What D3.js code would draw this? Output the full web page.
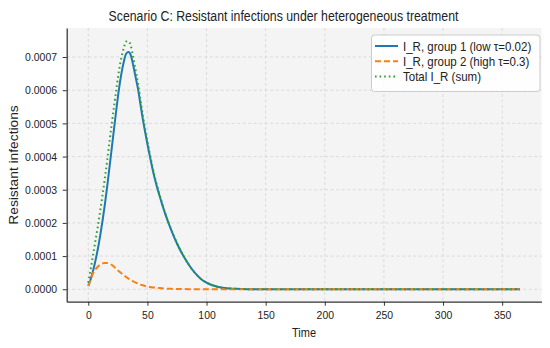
<!DOCTYPE html>
<html>
<head>
<meta charset="utf-8">
<script src="https://cdn.jsdelivr.net/npm/d3@7"></script>
<style>
  body { margin: 0; background: #fff; }
  svg text { font-family: "Liberation Sans", Arial, sans-serif; fill: #222; }
</style>
</head>
<body>
<svg id="chart" width="550" height="348"></svg>
<script>
// Scenario C: resistant infections
const time = [0, 2, 4, 6, 8, 10, 12, 14, 16, 18, 20, 22, 24, 26, 28, 30, 32, 34, 36, 38, 40,
  42, 44, 46, 48, 50, 52, 54, 56, 58, 60, 65, 70, 75, 80, 85, 90, 95, 100, 105, 110, 115,
  120, 125, 130, 135, 140, 145, 150, 200, 250, 300, 365];

const group1 = [0.10e-4, 0.30e-4, 0.55e-4, 0.85e-4, 1.20e-4, 1.60e-4, 2.05e-4, 2.55e-4, 3.10e-4,
  3.70e-4, 4.30e-4, 4.90e-4, 5.50e-4, 6.05e-4, 6.50e-4, 6.85e-4, 7.10e-4, 7.15e-4, 7.05e-4,
  6.75e-4, 6.40e-4, 6.05e-4, 5.60e-4, 5.15e-4, 4.75e-4, 4.38e-4, 4.02e-4, 3.68e-4, 3.37e-4,
  3.10e-4, 2.85e-4, 2.28e-4, 1.80e-4, 1.38e-4, 1.03e-4, 0.74e-4, 0.50e-4, 0.32e-4, 0.20e-4,
  0.12e-4, 0.07e-4, 0.04e-4, 0.022e-4, 0.012e-4, 0.006e-4, 0.003e-4, 0.002e-4, 0.001e-4,
  0, 0, 0, 0, 0];

const group2 = [0.10e-4, 0.30e-4, 0.48e-4, 0.60e-4, 0.68e-4, 0.74e-4, 0.78e-4, 0.79e-4, 0.79e-4,
  0.77e-4, 0.73e-4, 0.67e-4, 0.60e-4, 0.54e-4, 0.48e-4, 0.42e-4, 0.37e-4, 0.32e-4, 0.28e-4,
  0.24e-4, 0.20e-4, 0.17e-4, 0.14e-4, 0.12e-4, 0.10e-4, 0.085e-4, 0.07e-4, 0.06e-4, 0.05e-4,
  0.042e-4, 0.035e-4, 0.02e-4, 0.012e-4, 0.008e-4, 0.005e-4, 0.003e-4, 0.002e-4, 0.001e-4,
  0.001e-4, 0, 0, 0, 0, 0, 0, 0, 0, 0, 0, 0, 0, 0, 0];

const total = [0.20e-4, 0.60e-4, 1.03e-4, 1.45e-4, 1.88e-4, 2.34e-4, 2.83e-4, 3.34e-4, 3.89e-4,
  4.47e-4, 5.03e-4, 5.57e-4, 6.10e-4, 6.59e-4, 6.98e-4, 7.27e-4, 7.47e-4, 7.47e-4, 7.33e-4,
  6.99e-4, 6.60e-4, 6.22e-4, 5.74e-4, 5.27e-4, 4.85e-4, 4.465e-4, 4.09e-4, 3.74e-4, 3.42e-4,
  3.142e-4, 2.885e-4, 2.30e-4, 1.812e-4, 1.388e-4, 1.035e-4, 0.743e-4, 0.502e-4, 0.321e-4,
  0.201e-4, 0.12e-4, 0.07e-4, 0.04e-4, 0.022e-4, 0.012e-4, 0.006e-4, 0.003e-4, 0.002e-4,
  0.001e-4, 0, 0, 0, 0, 0];

const xTicks = [0, 50, 100, 150, 200, 250, 300, 350];
const yTicks = [0, 0.0001, 0.0002, 0.0003, 0.0004, 0.0005, 0.0006, 0.0007];

const series = [
  { name: 'I_R, group 1 (low τ=0.02)', values: group1, color: '#1f77b4', dash: null },
  { name: 'I_R, group 2 (high τ=0.3)', values: group2, color: '#ff7f0e', dash: '6,3' },
  { name: 'Total I_R (sum)', values: total, color: '#2ca02c', dash: '1.6,3' }
];

const SX = 0.9; // picture is squeezed sideways, text too

const svg = d3.select('#chart');
const pLeft = 66.7, pRight = 541.5, pTop = 28, pBottom = 301.7;

const x = d3.scaleLinear().domain([-18.25, 383.25]).range([pLeft, pRight]);
const y = d3.scaleLinear().domain([-0.0000375, 0.0007875]).range([pBottom, pTop]);

// panel
svg.append('rect').attr('x', pLeft).attr('y', pTop)
  .attr('width', pRight - pLeft).attr('height', pBottom - pTop).attr('fill', '#f4f4f4');

// grid
const grid = svg.append('g').attr('stroke', '#d4d4d4').attr('stroke-width', 0.8)
  .attr('stroke-dasharray', '3,2.5');
grid.selectAll('.gx').data(xTicks).join('line').attr('class', 'gx')
  .attr('x1', d => x(d)).attr('x2', d => x(d)).attr('y1', pTop).attr('y2', pBottom);
grid.selectAll('.gy').data(yTicks).join('line').attr('class', 'gy')
  .attr('x1', pLeft).attr('x2', pRight).attr('y1', d => y(d)).attr('y2', d => y(d));

// lines
const line = vals => d3.line()
  .x((d, i) => x(time[i]))
  .y(d => y(d))
  .curve(d3.curveMonotoneX)(vals);

svg.append('g').selectAll('path').data(series).join('path')
  .attr('d', d => line(d.values))
  .attr('fill', 'none')
  .attr('stroke', d => d.color)
  .attr('stroke-width', 2)
  .attr('stroke-dasharray', d => d.dash);

// axes
const xAxis = svg.append('g').attr('transform', `translate(0,${pBottom})`)
  .call(d3.axisBottom(x).tickValues(xTicks).tickSize(4).tickSizeOuter(0).tickPadding(5.3));
const yAxis = svg.append('g').attr('transform', `translate(${pLeft},0)`)
  .call(d3.axisLeft(y).tickValues(yTicks).tickFormat(d3.format('.4f')).tickSize(4).tickSizeOuter(0));

[xAxis, yAxis].forEach(a => {
  a.select('.domain').attr('stroke', '#333').attr('stroke-width', 1.25);
  a.selectAll('.tick line').attr('stroke', '#333').attr('stroke-width', 1);
  a.selectAll('.tick text').attr('font-size', '11.6px').attr('fill', '#222')
    .attr('transform', `scale(${SX},1)`);
});
yAxis.selectAll('.tick text').attr('x', -9.7 / SX);

// title and axis labels
svg.append('text')
  .attr('transform', 'translate(283.5,21) scale(0.86,1)')
  .attr('text-anchor', 'middle').attr('font-size', '14.3px')
  .text('Scenario C: Resistant infections under heterogeneous treatment');

svg.append('text')
  .attr('transform', `translate(304,337) scale(${SX},1)`)
  .attr('text-anchor', 'middle').attr('font-size', '12.2px')
  .text('Time');

svg.append('text')
  .attr('transform', `translate(17.5,165) scale(${SX},1) rotate(-90)`)
  .attr('text-anchor', 'middle').attr('font-size', '13.8px')
  .text('Resistant infections');

// legend
const lg = svg.append('g');
lg.append('rect').attr('x', 371.5).attr('y', 35).attr('width', 168.5).attr('height', 56.5)
  .attr('rx', 3).attr('fill', '#fff').attr('fill-opacity', 0.85)
  .attr('stroke', '#cccccc').attr('stroke-width', 1);
const rows = lg.selectAll('.row').data(series).join('g').attr('class', 'row')
  .attr('transform', (d, i) => `translate(375,${46 + i * 15.3})`);
rows.append('line').attr('x1', 0).attr('x2', 23).attr('y1', 0).attr('y2', 0)
  .attr('stroke', d => d.color).attr('stroke-width', 2)
  .attr('stroke-dasharray', d => d.dash);
rows.append('text')
  .attr('transform', `translate(28,4.5) scale(${SX},1)`)
  .attr('font-size', '12.8px')
  .text(d => d.name);
</script>
</body>
</html>
